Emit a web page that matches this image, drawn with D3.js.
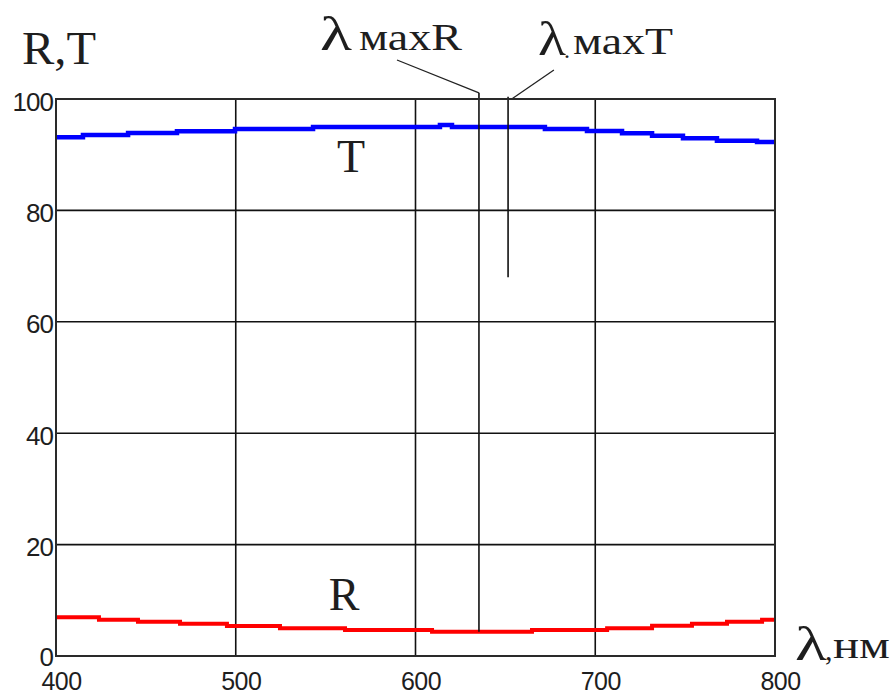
<!DOCTYPE html>
<html>
<head>
<meta charset="utf-8">
<script src="https://cdn.jsdelivr.net/npm/d3@7"></script>
<style>
  html, body { margin: 0; padding: 0; background: #fff; }
  svg { display: block; }
</style>
</head>
<body>
<svg id="chart" width="895" height="696"></svg>
<script>
// Wavelength axis and value axis ticks
const xTicks = [400, 500, 600, 700, 800];
const yTicks = [0, 20, 40, 60, 80, 100];

// Transmission T (%) — step levels as plotted: [wavelength nm, value]
const tLambda = [400, 415.0, 440.1, 467.3, 499.6, 543.0, 613.6, 620.3, 672.0, 695.4, 714.9, 731.6, 748.8, 767.7, 790.0, 800];
const tValues = [93.12, 93.54, 93.90, 94.20, 94.61, 94.97, 95.33, 94.97, 94.61, 94.25, 93.84, 93.41, 92.95, 92.51, 92.28, 92.28];

// Reflection R (%)
const rLambda = [400, 423.9, 445.6, 469.0, 495.1, 524.6, 560.8, 609.2, 664.8, 706.6, 731.6, 753.8, 773.3, 792.8, 800];
const rValues = [6.95, 6.52, 6.16, 5.80, 5.39, 4.97, 4.67, 4.36, 4.67, 4.97, 5.44, 5.80, 6.16, 6.52, 6.52];

// Wavelengths of the extrema and their marker lines
const markerNames = ["махR", "махT"];
const markerLambda = [635.3, 651.5];
const markerTop = [101.1, 100.4];
const markerBottom = [4.36, 68];
const leaderFromLambda = [589.7, 677.0];
const leaderFromValue = [107.0, 105.2];

const svg = d3.select("#chart");
const x = d3.scaleLinear().domain([400, 800]).range([56, 775]);
const y = d3.scaleLinear().domain([0, 100]).range([656, 99]);

const serif = "'Liberation Serif', 'Times New Roman', serif";
const sans = "'Liberation Sans', Arial, sans-serif";
const ink = "#1e1e1e";

// Grid
const grid = svg.append("g");
grid.selectAll("line.v").data(xTicks.slice(1, -1)).join("line")
  .attr("x1", d => x(d)).attr("x2", d => x(d))
  .attr("y1", y(0)).attr("y2", y(100))
  .attr("stroke", "#111").attr("stroke-width", 1.6);
grid.selectAll("line.h").data(yTicks.slice(1, -1)).join("line")
  .attr("x1", x(400)).attr("x2", x(800))
  .attr("y1", d => y(d)).attr("y2", d => y(d))
  .attr("stroke", "#111").attr("stroke-width", 1.6);

// Tick labels via axes
const xAxis = svg.append("g")
  .attr("transform", `translate(5,${y(0)})`)
  .call(d3.axisBottom(x).tickValues(xTicks).tickSize(0).tickPadding(0).tickFormat(d3.format("d")));
xAxis.select(".domain").remove();
xAxis.selectAll("text")
  .attr("y", 34).attr("dy", null)
  .attr("font-family", sans).attr("font-size", 25)
  .attr("letter-spacing", "-0.6px").attr("fill", ink);

const yAxis = svg.append("g")
  .attr("transform", `translate(${x(400) - 3},0)`)
  .call(d3.axisLeft(y).tickValues(yTicks).tickSize(0).tickPadding(0).tickFormat(d3.format("d")));
yAxis.select(".domain").remove();
yAxis.selectAll("text")
  .attr("x", 0).attr("dy", d => d === 0 ? "9px" : "11px")
  .attr("font-family", sans).attr("font-size", 26)
  .attr("letter-spacing", "-1px").attr("fill", ink);

// Curves
const line = d3.line().x(d => x(d[0])).y(d => y(d[1])).curve(d3.curveStepAfter);
svg.append("path")
  .datum(tLambda.map((l, i) => [l, tValues[i]]))
  .attr("d", line).attr("fill", "none")
  .attr("stroke", "#0000ff").attr("stroke-width", 4.5);
svg.append("path")
  .datum(rLambda.map((l, i) => [l, rValues[i]]))
  .attr("d", line).attr("fill", "none")
  .attr("stroke", "#ff0000").attr("stroke-width", 4);

// Marker lines at the extrema and their leaders
markerLambda.forEach((l, i) => {
  svg.append("line")
    .attr("x1", x(l)).attr("x2", x(l))
    .attr("y1", y(markerTop[i])).attr("y2", y(markerBottom[i]))
    .attr("stroke", "#111").attr("stroke-width", 1.6);
  svg.append("line")
    .attr("x1", x(leaderFromLambda[i])).attr("y1", y(leaderFromValue[i]))
    .attr("x2", x(l) + (i === 1 ? 4 : 0)).attr("y2", y(markerTop[i]) + (i === 1 ? 2 : 0))
    .attr("stroke", "#222").attr("stroke-width", 1.3);
});

// Plot frame
svg.append("rect")
  .attr("x", x(400)).attr("y", y(100))
  .attr("width", x(800) - x(400)).attr("height", y(0) - y(100))
  .attr("fill", "none").attr("stroke", "#2a2a2a").attr("stroke-width", 2);

// Labels
function label(txt, px, py, size, opts = {}) {
  const t = svg.append("text")
    .attr("x", px).attr("y", py)
    .attr("font-family", serif).attr("font-size", size)
    .attr("fill", ink).text(txt);
  if (opts.anchor) t.attr("text-anchor", opts.anchor);
  if (opts.len) t.attr("textLength", opts.len).attr("lengthAdjust", "spacingAndGlyphs");
  return t;
}

label("R,T", 22, 64, 46, { len: 74 });
label("T", 351, 172, 46, { anchor: "middle" });
label("R", 344, 610, 46, { anchor: "middle" });

// λ maxR
label("λ", 320, 50, 48, { len: 32 });
label(markerNames[0], 359, 50, 37, { len: 103 });
// λ.maxT
label("λ", 538, 55, 48, { len: 28 });
label(".", 564, 58, 24);
label(markerNames[1], 573, 54, 37, { len: 100 });

// λ,нм
label("λ", 795, 660, 48, { len: 32 });
label(",", 825, 660, 30);
label("нм", 833, 658, 38, { len: 57 });
</script>
</body>
</html>
